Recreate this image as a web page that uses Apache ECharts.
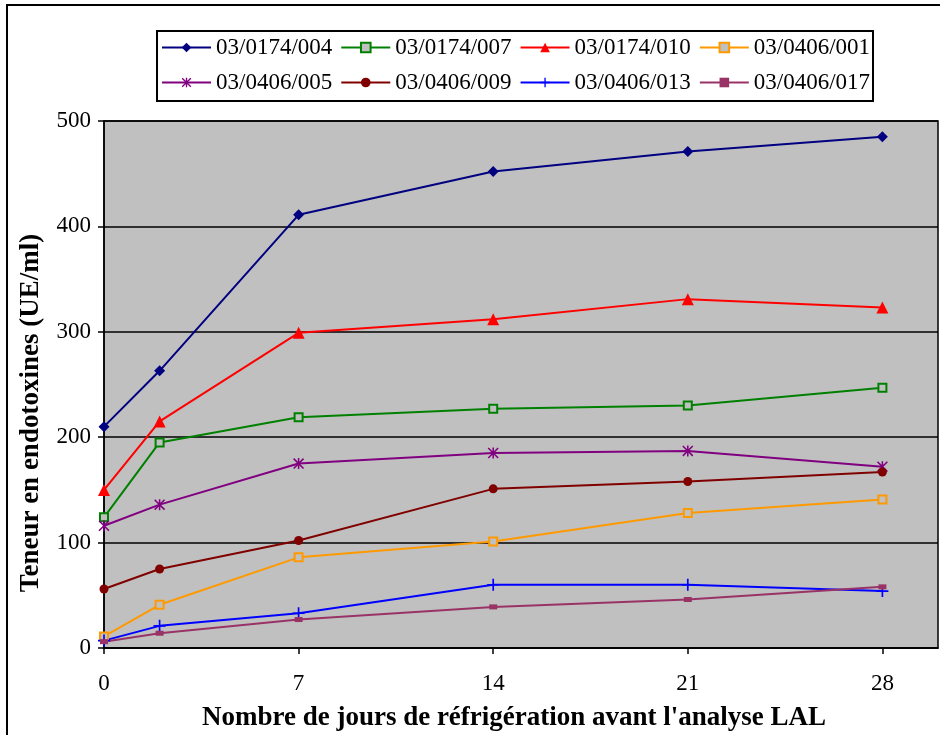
<!DOCTYPE html>
<html>
<head>
<meta charset="utf-8">
<script src="https://cdn.jsdelivr.net/npm/echarts@6/dist/echarts.min.js"></script>
<style>html,body{margin:0;padding:0;background:#fff}#c{width:940px;height:735px}</style>
</head>
<body>
<div id="c"></div>
<script>
const days = [0, 2, 7, 14, 21, 28];
const xTicks = [0, 7, 14, 21, 28];
const names = ['03/0174/004','03/0174/007','03/0174/010','03/0406/001','03/0406/005','03/0406/009','03/0406/013','03/0406/017'];
const s004 = [210, 263, 411, 452, 471, 485];
const s007 = [124, 195, 219, 227, 230, 247];
const s010 = [150, 215, 299, 312, 331, 323];
const s001 = [11, 41, 86, 101, 128, 141];
const s005 = [116, 136, 175, 185, 187, 172];
const s009 = [56, 75, 102, 151, 158, 167];
const s013 = [7, 21, 33, 60, 60, 54];
const s017 = [6, 14, 27, 39, 46, 58];
const xTitle = "Nombre de jours de réfrigération avant l'analyse LAL";
const yTitle = 'Teneur en endotoxines (UE/ml)';

const pair = arr => days.map((d, i) => [d, arr[i]]);
const asterisk = 'path://M4.3,0H5.7V10H4.3Z M0,1L1,0L10,9L9,10Z M9,0L10,1L1,10L0,9Z';
const plus = 'path://M4.3,0H5.7V4.3H10V5.7H5.7V10H4.3V5.7H0V4.3H4.3Z';
const dash = 'path://M0,0H10V6H0Z';

function mk(name, data, color, symbol, size, hollow) {
  return {
    name: name, type: 'line', data: pair(data),
    symbol: symbol, symbolSize: size,
    lineStyle: { color: color, width: 2 },
    itemStyle: hollow ? { color: '#C0C0C0', borderColor: color, borderWidth: 2 } : { color: color },
    emphasis: { disabled: true },
    animation: false
  };
}

const series = [
  mk(names[0], s004, '#000080', 'diamond', 11),
  mk(names[1], s007, '#008000', 'rect', 8, true),
  mk(names[2], s010, '#FF0000', 'triangle', 12),
  mk(names[3], s001, '#FF9900', 'rect', 8, true),
  mk(names[4], s005, '#800080', asterisk, 11),
  mk(names[5], s009, '#800000', 'circle', 9),
  mk(names[6], s013, '#0000FF', plus, 12),
  mk(names[7], s017, '#993366', dash, [8, 5])
];

const font = 'Liberation Serif, Times New Roman, serif';
const legendBase = {
  orient: 'horizontal', left: 161, itemWidth: 49, itemHeight: 12, itemGap: 8, padding: 0,
  textStyle: { fontFamily: font, fontSize: 23, color: '#000' }, selectedMode: false
};

const chart = echarts.init(document.getElementById('c'));
chart.setOption({
  backgroundColor: '#fff',
  animation: false,
  graphic: [
    { type: 'rect', shape: { x: 7, y: 5, width: 960, height: 760 }, style: { fill: 'none', stroke: '#000', lineWidth: 2 }, silent: true },
    { type: 'rect', shape: { x: 157, y: 31, width: 716, height: 70 }, style: { fill: 'none', stroke: '#000', lineWidth: 2 }, silent: true },
    { type: 'text', x: 514, y: 718, silent: true,
      style: { text: xTitle, font: 'bold 27px ' + font, fill: '#000', textAlign: 'center', textVerticalAlign: 'middle' } },
    { type: 'text', x: 31, y: 413, rotation: Math.PI / 2, silent: true,
      style: { text: yTitle, font: 'bold 27px ' + font, fill: '#000', textAlign: 'center', textVerticalAlign: 'middle' } }
  ],
  legend: [
    Object.assign({}, legendBase, { top: 36, data: names.slice(0, 4) }),
    Object.assign({}, legendBase, { top: 71, data: names.slice(4) })
  ],
  grid: { left: 104, right: 2, top: 121, bottom: 87, outerBoundsMode: 'none', containLabel: false, show: true, backgroundColor: '#C0C0C0', borderColor: '#000', borderWidth: 1.5 },
  xAxis: {
    type: 'value', min: 0, max: 30, interval: 7,
    axisLine: { show: true, onZero: false, lineStyle: { color: '#000', width: 1.5 } },
    axisTick: { show: true, length: 6, lineStyle: { color: '#000', width: 1.5 }, customValues: xTicks },
    axisLabel: { fontFamily: font, fontSize: 23, color: '#000', margin: 24, customValues: xTicks },
    splitLine: { show: false }
  },
  yAxis: {
    type: 'value', min: 0, max: 500, interval: 100,
    axisLine: { show: true, lineStyle: { color: '#000', width: 1.5 } },
    axisTick: { show: true, length: 6, lineStyle: { color: '#000', width: 1.5 } },
    axisLabel: { fontFamily: font, fontSize: 23, color: '#000', margin: 13 },
    splitLine: { show: true, lineStyle: { color: '#000', width: 1.5 } }
  },
  series: series
});
</script>
</body>
</html>
